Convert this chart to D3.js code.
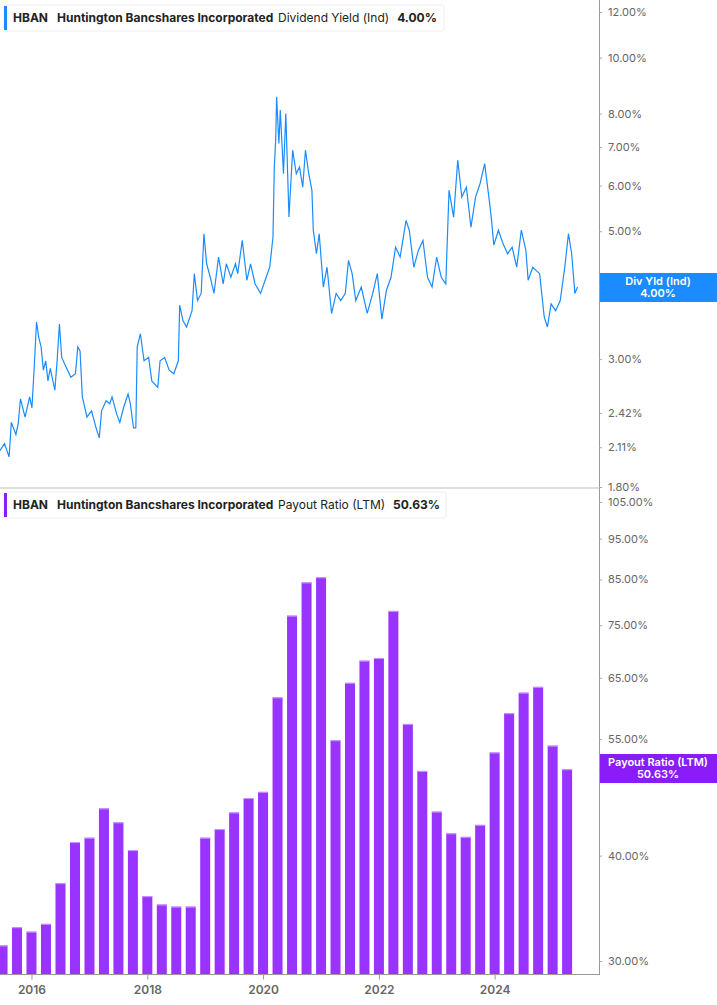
<!DOCTYPE html>
<html>
<head>
<meta charset="utf-8">
<script src="https://cdn.jsdelivr.net/npm/d3@7"></script>
<style>
  body { margin: 0; background: #fff; font-family: Inter, "Noto Sans", sans-serif; }
  svg text { font-family: Inter, "Noto Sans", sans-serif; }
</style>
</head>
<body>
<div id="chart"></div>
<script>
// --- Data ---
const yieldTicks = [1.8, 2.11, 2.42, 3, 4, 5, 6, 7, 8, 10, 12];
const payoutTicks = [30, 40, 50, 55, 65, 75, 85, 95, 105];
const yearTicks = [2016, 2018, 2020, 2022, 2024];

// dividend yield (%) by decimal year
const yieldSeries = [
  [2015.455, 2.08], [2015.534, 2.14], [2015.613, 2.03], [2015.652, 2.33], [2015.731, 2.22],
  [2015.771, 2.32], [2015.810, 2.56], [2015.889, 2.38], [2015.968, 2.58], [2016.008, 2.47],
  [2016.047, 2.90], [2016.087, 3.48], [2016.126, 3.27], [2016.166, 3.15], [2016.205, 2.87],
  [2016.245, 2.98], [2016.284, 2.75], [2016.324, 2.89], [2016.403, 2.65], [2016.442, 2.98],
  [2016.482, 3.45], [2016.521, 3.02], [2016.600, 2.90], [2016.679, 2.79], [2016.758, 2.83],
  [2016.798, 3.15], [2016.837, 3.10], [2016.877, 2.58], [2016.956, 2.38], [2017.035, 2.44],
  [2017.114, 2.28], [2017.169, 2.19], [2017.209, 2.44], [2017.288, 2.54], [2017.351, 2.51],
  [2017.390, 2.58], [2017.469, 2.41], [2017.524, 2.33], [2017.588, 2.47], [2017.667, 2.61],
  [2017.706, 2.51], [2017.761, 2.28], [2017.801, 2.28], [2017.825, 3.15], [2017.880, 3.32],
  [2017.943, 2.98], [2018.022, 3.02], [2018.077, 2.75], [2018.180, 2.68], [2018.220, 2.98],
  [2018.299, 3.02], [2018.378, 2.87], [2018.457, 2.83], [2018.536, 2.98], [2018.559, 3.72],
  [2018.615, 3.50], [2018.678, 3.41], [2018.773, 3.64], [2018.812, 4.22], [2018.867, 3.79],
  [2018.931, 3.90], [2018.978, 4.95], [2019.025, 4.39], [2019.088, 4.16], [2019.152, 3.90],
  [2019.231, 4.51], [2019.310, 4.05], [2019.365, 4.39], [2019.444, 4.16], [2019.523, 4.39],
  [2019.562, 4.22], [2019.641, 4.82], [2019.720, 4.11], [2019.784, 4.39], [2019.863, 4.05],
  [2019.957, 3.90], [2020.036, 4.11], [2020.115, 4.33], [2020.171, 4.88], [2020.194, 6.46],
  [2020.218, 7.19], [2020.234, 8.55], [2020.273, 7.10], [2020.297, 8.11], [2020.352, 6.29],
  [2020.392, 8.00], [2020.447, 5.29], [2020.510, 6.91], [2020.573, 6.29], [2020.629, 6.46],
  [2020.684, 5.96], [2020.731, 6.91], [2020.787, 6.29], [2020.842, 5.89], [2020.866, 5.02],
  [2020.921, 4.57], [2020.968, 4.95], [2021.039, 4.00], [2021.103, 4.33], [2021.182, 3.60],
  [2021.261, 3.90], [2021.340, 3.79], [2021.419, 3.90], [2021.474, 4.45], [2021.537, 4.22],
  [2021.600, 3.79], [2021.695, 4.00], [2021.798, 3.60], [2021.893, 3.90], [2021.972, 4.22],
  [2022.051, 3.52], [2022.130, 3.95], [2022.209, 4.16], [2022.288, 4.69], [2022.367, 4.51],
  [2022.469, 5.22], [2022.525, 5.02], [2022.603, 4.33], [2022.682, 4.63], [2022.761, 4.82],
  [2022.840, 4.16], [2022.919, 4.00], [2022.998, 4.51], [2023.077, 4.16], [2023.156, 4.05],
  [2023.212, 5.89], [2023.291, 5.29], [2023.362, 6.64], [2023.433, 5.73], [2023.512, 5.96],
  [2023.591, 5.08], [2023.670, 5.73], [2023.749, 6.05], [2023.828, 6.55], [2023.907, 5.66],
  [2023.947, 5.22], [2023.986, 4.73], [2024.065, 5.02], [2024.144, 4.76], [2024.223, 4.57],
  [2024.302, 4.69], [2024.381, 4.33], [2024.460, 5.02], [2024.539, 4.63], [2024.578, 4.11],
  [2024.657, 4.33], [2024.776, 4.22], [2024.855, 3.55], [2024.910, 3.41], [2024.973, 3.74],
  [2025.052, 3.64], [2025.131, 3.79], [2025.210, 4.33], [2025.273, 4.95], [2025.329, 4.57],
  [2025.384, 3.90], [2025.430, 4.00]
];

// quarterly payout ratio (%) starting 2015 Q3
const payoutStart = 2015.5;
const payoutValues = [
  31.3, 32.9, 32.5, 33.2, 37.1, 41.5, 42.0, 45.5, 43.8, 40.6,
  35.8, 35.0, 34.8, 34.8, 42.0, 43.0, 45.0, 46.8, 47.6, 61.6,
  77.0, 84.3, 85.5, 54.8, 64.1, 68.1, 68.6, 78.0, 57.3, 50.4,
  45.1, 42.5, 42.1, 43.5, 53.0, 59.0, 62.4, 63.4, 54.0, 50.63
];

// --- Layout ---
const W = 717, H = 1005;
const AXIS_X = 599;
const BLUE = '#1a8cff', PURPLE = '#9933ff', TAG_PURPLE = '#8a1cf7';

const toDate = y => {
  const yr = Math.floor(y);
  const s = new Date(yr, 0, 1), e = new Date(yr + 1, 0, 1);
  return new Date(+s + (y - yr) * (e - s));
};

const svg = d3.select('#chart').append('svg').attr('width', W).attr('height', H);

const x = d3.scaleTime()
  .domain([toDate(2016 - 31.5 / 57.9), toDate(2016 + (AXIS_X - 31.5) / 57.9)])
  .range([0, AXIS_X]);

const yTop = d3.scaleLog().domain([1.8, 12]).range([487, 12]);
const yBot = d3.scaleLog().domain([30, 105]).range([961, 502]);

// --- Top panel: dividend yield line ---
const line = d3.line().x(d => x(toDate(d[0]))).y(d => yTop(d[1]));
svg.append('path').datum(yieldSeries)
  .attr('d', line).attr('fill', 'none').attr('stroke', BLUE).attr('stroke-width', 1.2);

// separator
svg.append('line').attr('x1', 0).attr('x2', AXIS_X).attr('y1', 488).attr('y2', 488)
  .attr('stroke', '#ddd').attr('stroke-width', 2);

// --- Bottom panel: payout bars ---
const quarterWidth = x(toDate(2016.25)) - x(toDate(2016));
svg.append('g').selectAll('rect').data(payoutValues).join('rect')
  .attr('x', (d, i) => x(toDate(payoutStart + i * 0.25)) - 5)
  .attr('width', 10)
  .attr('y', d => yBot(d))
  .attr('height', d => 974 - yBot(d))
  .attr('fill', PURPLE);
svg.append('g').selectAll('line').data(payoutValues).join('line')
  .attr('x1', (d, i) => x(toDate(payoutStart + i * 0.25)) - 5)
  .attr('x2', (d, i) => x(toDate(payoutStart + i * 0.25)) + 5)
  .attr('y1', d => yBot(d) + 0.5).attr('y2', d => yBot(d) + 0.5)
  .attr('stroke', '#c79bff').attr('stroke-width', 1);

// --- Axes ---
svg.append('line').attr('x1', AXIS_X + 0.5).attr('x2', AXIS_X + 0.5).attr('y1', 0).attr('y2', 975)
  .attr('stroke', '#999');

const styleAxis = g => {
  g.select('.domain').remove();
  g.selectAll('.tick line').attr('stroke', '#aaa');
  g.selectAll('.tick text').attr('fill', '#666').style('font-size', '11px').attr('x', 9);
};
svg.append('g').attr('transform', `translate(${AXIS_X},0)`)
  .call(d3.axisRight(yTop).tickValues(yieldTicks).tickSize(3).tickFormat(d => d.toFixed(2) + '%'))
  .call(styleAxis);
svg.append('g').attr('transform', `translate(${AXIS_X},0)`)
  .call(d3.axisRight(yBot).tickValues(payoutTicks).tickSize(3).tickFormat(d => d.toFixed(2) + '%'))
  .call(styleAxis);

const xAxis = svg.append('g').attr('transform', 'translate(0,974.5)')
  .call(d3.axisBottom(x).tickValues(yearTicks.map(y => new Date(y, 0, 1))).tickSize(5).tickFormat(d3.timeFormat('%Y')));
xAxis.select('.domain').attr('stroke', '#999').attr('d', `M0,0H${AXIS_X}`);
xAxis.selectAll('.tick line').attr('stroke', '#999');
xAxis.selectAll('.tick text').attr('fill', '#666').style('font-size', '12px').style('font-weight', 600).attr('y', 11);

// --- Value tags ---
function tag(y0, color, l1, l2) {
  const g = svg.append('g');
  g.append('rect').attr('x', AXIS_X + 1).attr('y', y0).attr('width', W - AXIS_X).attr('height', 29).attr('fill', color);
  g.append('text').attr('x', 658).attr('y', y0 + 12).attr('text-anchor', 'middle')
    .attr('fill', '#fff').style('font-size', '11px').style('font-weight', 600).text(l1);
  g.append('text').attr('x', 658).attr('y', y0 + 24).attr('text-anchor', 'middle')
    .attr('fill', '#fff').style('font-size', '11px').style('font-weight', 600).text(l2);
}
tag(273, BLUE, 'Div Yld (Ind)', '4.00%');
tag(754, TAG_PURPLE, 'Payout Ratio (LTM)', '50.63%');

// --- Legends ---
function legend(y0, color, metric, value, width) {
  const g = svg.append('g');
  g.append('rect').attr('x', 4).attr('y', y0).attr('width', width).attr('height', 26).attr('rx', 2)
    .attr('fill', '#fff').attr('stroke', '#eee');
  g.append('rect').attr('x', 4).attr('y', y0 + 1).attr('width', 3).attr('height', 24).attr('fill', color);
  const t = g.append('text').attr('x', 13).attr('y', y0 + 17).style('font-size', '12px').attr('fill', '#222');
  t.append('tspan').style('font-weight', 700).text('HBAN');
  t.append('tspan').attr('x', 57).style('font-weight', 700).text('Huntington Bancshares Incorporated');
  t.append('tspan').attr('x', 278).style('font-weight', 400).text(metric);
  t.append('tspan').attr('dx', 8).style('font-weight', 700).text(value);
}
legend(5, BLUE, 'Dividend Yield (Ind)', '4.00%', 440);
legend(492, '#8a1cf7', 'Payout Ratio (LTM)', '50.63%', 442);
</script>
</body>
</html>
